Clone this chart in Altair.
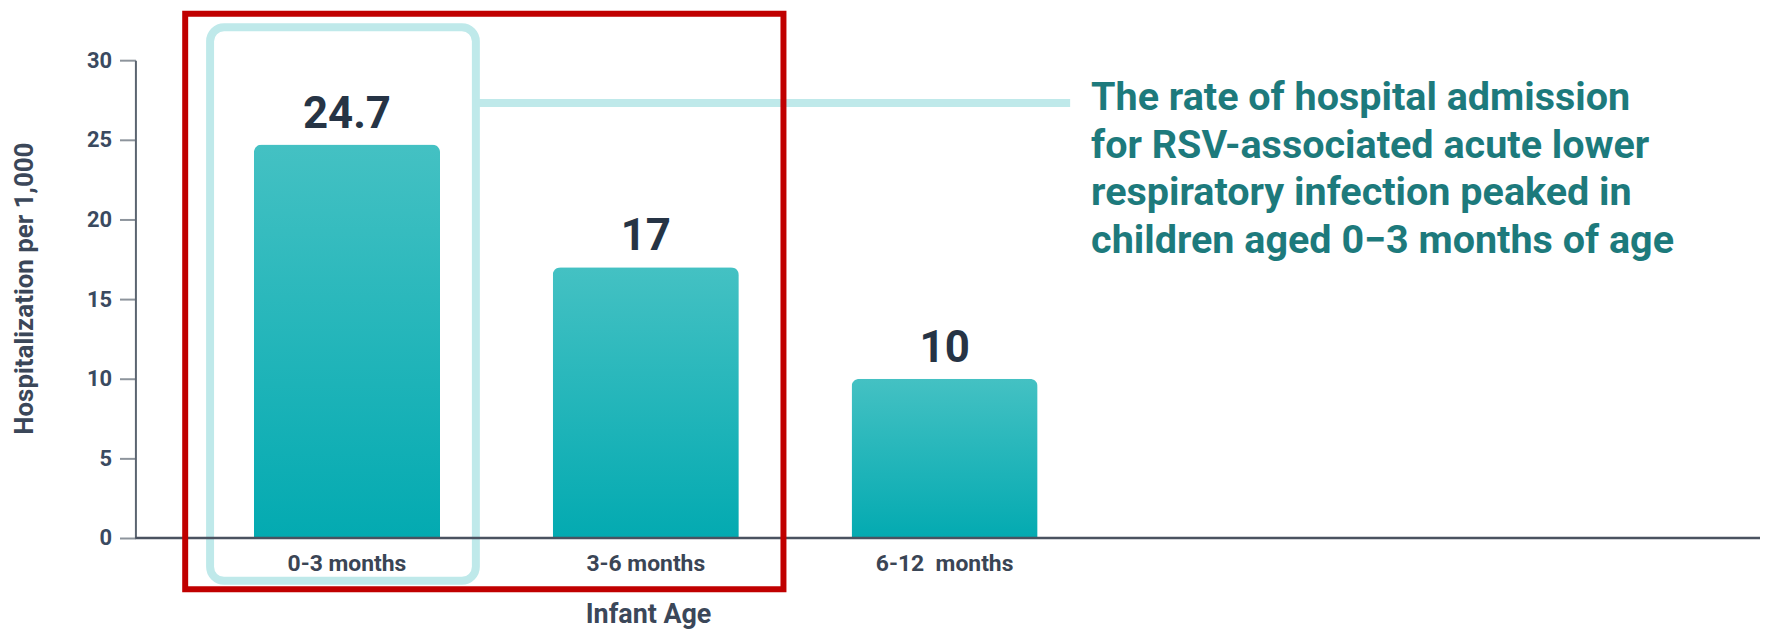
import altair as alt
import pandas as pd

# ---- data ----
categories = ["0-3 months", "3-6 months", "6-12\u00a0 months"]
values = [24.7, 17, 10]
y_ticks = [0, 5, 10, 15, 20, 25, 30]
annotation_lines = [
    "The rate of hospital admission",
    "for RSV-associated acute lower",
    "respiratory infection peaked in",
    "children aged 0\u22123 months of age",
]

df = pd.DataFrame({"age": categories, "rate": values})
one = pd.DataFrame({"k": [0]})

W, H = 1632, 480
FONT = "Roboto"
AXIS_TXT = "#3b4759"

x_enc = alt.X(
    "age:N",
    sort=categories,
    scale=alt.Scale(paddingInner=0.3771, paddingOuter=0.3964, range=[0, 1025.4], round=False),
    axis=alt.Axis(
        title="Infant Age",
        titleFont=FONT, titleFontSize=27, titleFontWeight="bold", titleColor=AXIS_TXT,
        titleX=515, titleY=85, titleBaseline="alphabetic", titleAlign="center",
        labelFont=FONT, labelFontSize=23, labelFontWeight="bold", labelColor="#3a4555",
        labelPadding=15, labelAngle=0, ticks=False, domain=False, grid=False,
    ),
)
y_enc = alt.Y(
    "rate:Q",
    scale=alt.Scale(domain=[0, 30], nice=False, zero=True),
    axis=alt.Axis(
        title="Hospitalization per 1,000",
        values=y_ticks,
        titleFont=FONT, titleFontSize=26, titleFontWeight="bold", titleColor=AXIS_TXT,
        titleAngle=-90, titleX=-111, titleY=229, titleAlign="center", titleBaseline="middle",
        labelFont=FONT, labelFontSize=22, labelFontWeight="bold", labelColor="#3a4a60",
        labelPadding=8, tickSize=16, tickColor="#8d949c", tickWidth=2,
        domainColor="#5b6470", domainWidth=2, grid=False,
    ),
)

gradient = alt.Gradient(
    gradient="linear",
    stops=[alt.GradientStop(color="#44c1c3", offset=0), alt.GradientStop(color="#03aab1", offset=1)],
    x1=0, x2=0, y1=0, y2=1,
)

base = alt.Chart(df)

bars = base.mark_bar(
    color=gradient, cornerRadiusTopLeft=8, cornerRadiusTopRight=8
).encode(x=x_enc, y=y_enc)

labels = base.mark_text(
    font=FONT, fontSize=44, fontWeight="bold", color="#263445",
    baseline="alphabetic", dy=-17,
).encode(x=alt.X("age:N", sort=categories), y="rate:Q", text=alt.Text("rate:Q"))

baseline_rule = alt.Chart(one).mark_rule(color="#4a5260", strokeWidth=2.5).encode(
    y=alt.datum(0), x=alt.value(0), x2=alt.value(W)
)

box = alt.Chart(one).mark_rect(
    filled=False, stroke="#bfe9ea", strokeWidth=8, cornerRadius=14
).encode(x=alt.value(75), x2=alt.value(342), y=alt.value(-33), y2=alt.value(523))

connector = alt.Chart(one).mark_rule(color="#bfe9ea", strokeWidth=8).encode(
    x=alt.value(342), x2=alt.value(939), y=alt.value(43)
)

red = alt.Chart(one).mark_rect(
    filled=False, stroke="#c00000", strokeWidth=6
).encode(x=alt.value(50), x2=alt.value(651), y=alt.value(-46.7), y2=alt.value(531.5))

annot = alt.Chart(one).mark_text(
    font=FONT, fontSize=39.7, fontWeight="bold", color="#1d7a7c",
    align="left", baseline="alphabetic", lineHeight=47.7, lineBreak="\n",
).encode(x=alt.value(960), y=alt.value(50.4), text=alt.value("\n".join(annotation_lines)))

chart = alt.layer(box, connector, bars, baseline_rule, labels, red, annot).properties(
    width=W, height=H, background="white",
    autosize=alt.AutoSizeParams(type="none"),
    padding={"left": 128, "top": 51, "right": 0, "bottom": 92},
).configure_view(strokeWidth=0, stroke=None)

chart.save("out.html", embed_options={"renderer": "svg", "actions": False})
